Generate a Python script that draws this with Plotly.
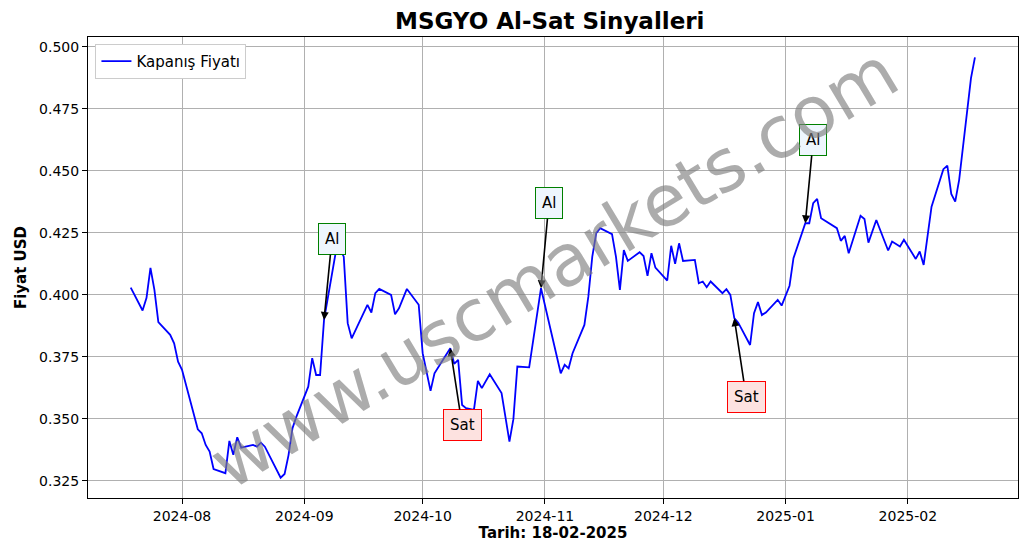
import plotly.graph_objects as go

dates = ["2024-07-19","2024-07-22","2024-07-23","2024-07-24","2024-07-25","2024-07-26","2024-07-29","2024-07-30","2024-07-31","2024-08-01",
"2024-08-05","2024-08-06","2024-08-07","2024-08-08","2024-08-09","2024-08-12","2024-08-13","2024-08-14","2024-08-15","2024-08-16",
"2024-08-19","2024-08-20","2024-08-21","2024-08-22","2024-08-26","2024-08-27","2024-08-28","2024-08-29","2024-08-30","2024-09-02",
"2024-09-03","2024-09-04","2024-09-05","2024-09-06","2024-09-09","2024-09-10","2024-09-11","2024-09-12","2024-09-13","2024-09-17",
"2024-09-18","2024-09-19","2024-09-20","2024-09-23","2024-09-24","2024-09-25","2024-09-27","2024-09-30","2024-10-01","2024-10-03",
"2024-10-04","2024-10-08","2024-10-09","2024-10-10","2024-10-11","2024-10-12","2024-10-14","2024-10-15","2024-10-16","2024-10-18",
"2024-10-21","2024-10-23","2024-10-24","2024-10-25","2024-10-28","2024-10-31","2024-11-05","2024-11-06","2024-11-07","2024-11-08",
"2024-11-11","2024-11-12","2024-11-13","2024-11-14","2024-11-15","2024-11-18","2024-11-19","2024-11-20","2024-11-21","2024-11-22",
"2024-11-25","2024-11-26","2024-11-27","2024-11-28","2024-11-29","2024-12-02","2024-12-03","2024-12-04","2024-12-05","2024-12-06",
"2024-12-09","2024-12-10","2024-12-11","2024-12-12","2024-12-13","2024-12-16","2024-12-17","2024-12-18","2024-12-19","2024-12-20",
"2024-12-23","2024-12-24","2024-12-25","2024-12-26","2024-12-27","2024-12-30","2024-12-31","2025-01-02","2025-01-03","2025-01-06",
"2025-01-07","2025-01-08","2025-01-09","2025-01-10","2025-01-14","2025-01-15","2025-01-16","2025-01-17","2025-01-20","2025-01-21",
"2025-01-22","2025-01-24","2025-01-27","2025-01-28","2025-01-30","2025-01-31","2025-02-03","2025-02-04","2025-02-05","2025-02-07",
"2025-02-10","2025-02-11","2025-02-12","2025-02-13","2025-02-14","2025-02-17","2025-02-18"]
prices = [0.4029,0.3937,0.3988,0.4109,0.4020,0.3890,0.3839,0.3805,0.3731,0.3698,
0.3458,0.3442,0.3395,0.3368,0.3298,0.3281,0.3411,0.3355,0.3426,0.3384,
0.3395,0.3388,0.3404,0.3388,0.3263,0.3278,0.3354,0.3462,0.3509,0.3630,
0.3745,0.3677,0.3677,0.3899,0.4175,0.4188,0.4154,0.3886,0.3825,0.3960,
0.3929,0.4007,0.4024,0.4000,0.3922,0.3946,0.4024,0.3960,0.3765,0.3613,
0.3684,0.3785,0.3722,0.3738,0.3556,0.3543,0.3536,0.3653,0.3624,0.3680,
0.3604,0.3408,0.3499,0.3711,0.3708,0.4027,0.3684,0.3718,0.3704,0.3765,
0.3879,0.3993,0.4154,0.4249,0.4269,0.4245,0.4154,0.4020,0.4181,0.4137,
0.4172,0.4157,0.4077,0.4168,0.4110,0.4058,0.4198,0.4125,0.4208,0.4137,
0.4141,0.4047,0.4054,0.4031,0.4054,0.4007,0.4023,0.4000,0.3906,0.3888,
0.3798,0.3926,0.3971,0.3919,0.3929,0.3980,0.3957,0.4037,0.4148,0.4289,
0.4289,0.4370,0.4387,0.4309,0.4269,0.4218,0.4238,0.4168,0.4319,0.4306,
0.4211,0.4302,0.4179,0.4215,0.4195,0.4222,0.4145,0.4175,0.4121,0.4356,
0.4507,0.4521,0.4407,0.4376,0.4464,0.4874,0.4958]

sig_dates = ["2024-09-06","2024-10-08","2024-10-31","2024-12-19","2025-01-06"]
sig_prices = [0.3899,0.3785,0.4027,0.3906,0.4289]
sig_labels = ["Al","Sat","Al","Sat","Al"]
label_dates = ["2024-09-08","2024-10-11","2024-11-02","2024-12-22","2025-01-08"]
label_prices = [0.4225,0.3475,0.4370,0.3590,0.4625]

fig = go.Figure()
fig.add_trace(go.Scatter(x=dates, y=prices, mode="lines", name="Kapanış Fiyatı",
                         line=dict(color="blue", width=1.8)))
for d, p, lab, ld, lp in zip(sig_dates, sig_prices, sig_labels, label_dates, label_prices):
    buy = lab == "Al"
    fig.add_annotation(x=d, y=p, ax=ld, ay=lp, axref="x", ayref="y", xref="x", yref="y",
                       text=lab, showarrow=True, arrowhead=2, arrowsize=1, arrowwidth=1.6,
                       arrowcolor="black", standoff=0,
                       font=dict(size=15, color="black", family="DejaVu Sans"),
                       bgcolor="#eef6fd" if buy else "#fde2e0",
                       bordercolor="green" if buy else "red", borderwidth=1, borderpad=6)

fig.add_annotation(x=0.5, y=0.5, xref="paper", yref="paper", text="www.uscmarkets.com",
                   showarrow=False, textangle=-31,
                   font=dict(size=72, color="rgba(128,128,128,0.65)", family="DejaVu Sans"))

axis_common = dict(showgrid=True, gridcolor="#b0b0b0", gridwidth=1, showline=True,
                   linecolor="black", linewidth=1, mirror=True, ticks="outside",
                   ticklen=5, tickcolor="black", zeroline=False, automargin=False,
                   tickfont=dict(size=14, color="black", family="DejaVu Sans"))
fig.update_layout(
    width=1028, height=554, margin=dict(l=80, r=18, t=29, b=64),
    plot_bgcolor="white", paper_bgcolor="white",
    font=dict(family="DejaVu Sans", color="black"),
    title=dict(text="<b>MSGYO Al-Sat Sinyalleri</b>", x=0.527, xanchor="center", y=0.977,
               yanchor="middle", font=dict(size=23, color="black")),
    xaxis=dict(axis_common, range=["2024-07-08 04:00", "2025-02-28 22:00"], tickformat="%Y-%m",
               dtick="M1", tick0="2024-08-01",
               title=dict(text="<b>Tarih: 18-02-2025</b>", font=dict(size=15), standoff=4)),
    yaxis=dict(axis_common, range=[0.3181, 0.504], dtick=0.025, tickformat=".3f",
               title=dict(text="<b>Fiyat USD</b>", font=dict(size=15), standoff=8)),
    legend=dict(x=0.008, y=0.985, xanchor="left", yanchor="top", bordercolor="#cccccc",
                borderwidth=1, bgcolor="white", font=dict(size=15)),
    showlegend=True,
)
fig.write_html("out.html")
